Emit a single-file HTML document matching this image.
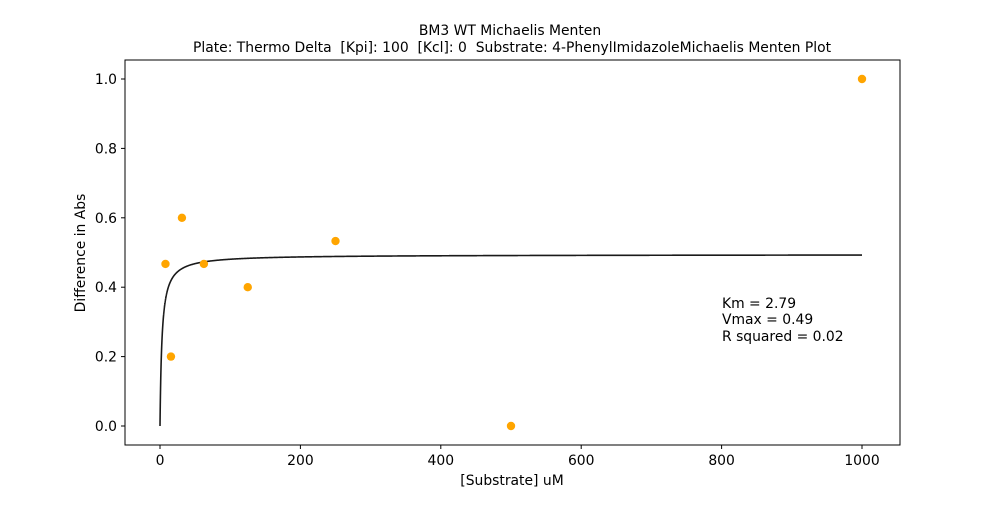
<!DOCTYPE html>
<html><head><meta charset="utf-8"><style>
body{margin:0;background:#fff;font-family:"Liberation Sans","DejaVu Sans",sans-serif}
svg text{font-family:"DejaVu Sans","Liberation Sans",sans-serif;white-space:pre}
</style></head><body>
<svg id="chart" width="1000" height="500" xmlns="http://www.w3.org/2000/svg">
<rect width="1000" height="500" fill="#fff"/>
<text x="510" y="35" font-size="13.9" text-anchor="middle">BM3 WT Michaelis Menten</text>
<text x="512" y="52" font-size="13.9" text-anchor="middle" xml:space="preserve">Plate: Thermo Delta  [Kpi]: 100  [Kcl]: 0  Substrate: 4-PhenylImidazoleMichaelis Menten Plot</text>
<g id="plot"></g>
<rect x="125" y="60" width="775" height="385" fill="none" stroke="#000" stroke-width="1"/>
<text x="512" y="485" font-size="13.9" text-anchor="middle">[Substrate] uM</text>
<text transform="translate(85,253) rotate(-90)" font-size="13.9" text-anchor="middle">Difference in Abs</text>
<g font-size="13.9">
<text x="722" y="308">Km = 2.79</text>
<text x="722" y="324">Vmax = 0.49</text>
<text x="722" y="341">R squared = 0.02</text>
</g>
</svg>
<script>
const substrate=[7.8,15.6,31.25,62.5,125,250,500,1000];
const absDiff=[0.467,0.2,0.6,0.467,0.4,0.533,0,1.0];
const xTicks=[0,200,400,600,800,1000];
const yTicks=[0,0.2,0.4,0.6,0.8,1.0];
const Km=2.79, Vmax=0.494;
const X=v=>160+v*0.702, Y=v=>426-v*347;
const NS="http://www.w3.org/2000/svg", g=document.getElementById('plot');
function mk(t,a){const e=document.createElementNS(NS,t);for(const k in a)e.setAttribute(k,a[k]);g.appendChild(e);return e;}
xTicks.forEach(t=>{
 const l=mk('line',{x1:X(t),x2:X(t),y1:445,y2:449,stroke:'#000'});
 
 
 const s=mk('text',{x:X(t),y:465,'font-size':13.9,'text-anchor':'middle'});s.textContent=t;
 
 
});
yTicks.forEach(t=>{
 const l=mk('line',{x1:121,x2:125,y1:Y(t),y2:Y(t),stroke:'#000'});
 
 
 const s=mk('text',{x:117,y:Y(t)+5,'font-size':13.9,'text-anchor':'end'});s.textContent=t.toFixed(1);
 
 
});
let d='';
for(let i=0;i<=2000;i++){const x=i<200?i*0.05:(i-200)*(990/1800)+10;const y=Vmax*x/(Km+x);d+=(i?'L':'M')+X(x).toFixed(2)+','+Y(y).toFixed(2);}
const p=mk('path',{d:d,fill:'none',stroke:'#1a1a1a','stroke-width':1.6});


substrate.forEach((s,i)=>{
 const c=mk('circle',{cx:X(s),cy:Y(absDiff[i]),r:4.2,fill:'#ffa500'});
 
 
});
</script>
</body></html>
